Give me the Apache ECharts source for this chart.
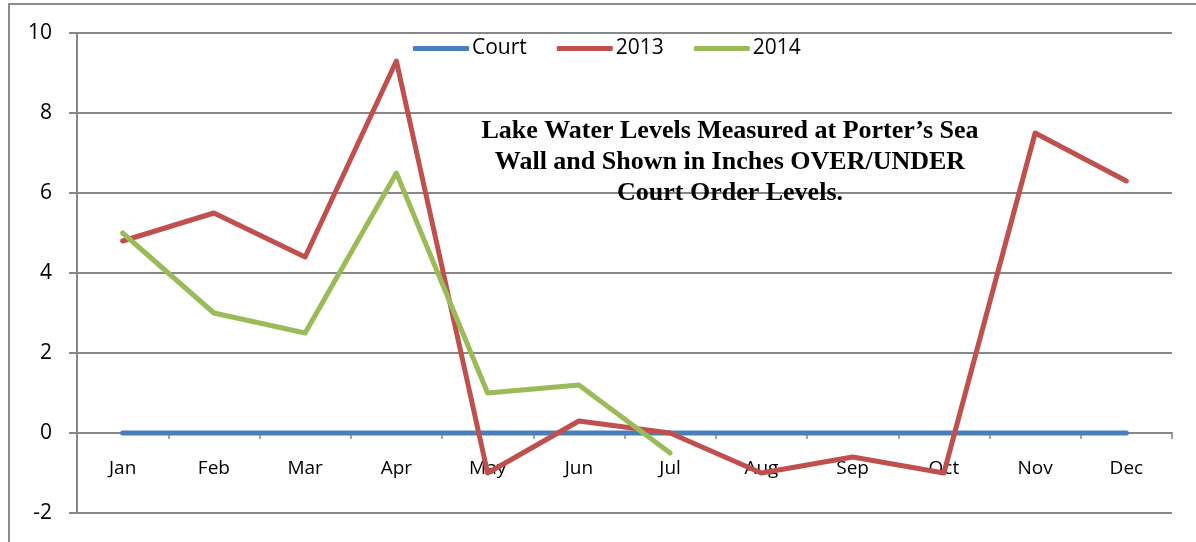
<!DOCTYPE html>
<html>
<head>
<meta charset="utf-8">
<script src="https://cdn.jsdelivr.net/npm/echarts@6/dist/echarts.min.js"></script>
<style>
  html, body { margin: 0; padding: 0; background: #fff; }
  #chart { width: 1196px; height: 542px; }
</style>
</head>
<body>
<div id="chart"></div>
<script>
// months along the x axis
var months = ['Jan', 'Feb', 'Mar', 'Apr', 'May', 'Jun', 'Jul', 'Aug', 'Sep', 'Oct', 'Nov', 'Dec'];

// inches over/under the court order level
var court = [0, 0, 0, 0, 0, 0, 0, 0, 0, 0, 0, 0];
var y2013 = [4.8, 5.5, 4.4, 9.3, -1.0, 0.3, 0.0, -1.0, -0.6, -1.0, 7.5, 6.3];
var y2014 = [5.0, 3.0, 2.5, 6.5, 1.0, 1.2, -0.5];

var chartTitle = 'Lake Water Levels Measured at Porter\u2019s Sea\nWall and Shown in Inches OVER/UNDER\nCourt Order Levels.';

var gridColor = '#878787';
var labelFont = '"Liberation Sans Narrow", "Open Sans", sans-serif';

var myChart = echarts.init(document.getElementById('chart'));

var line = function (name, data, color) {
    return {
        name: name,
        type: 'line',
        data: data,
        symbol: 'none',
        smooth: false,
        animation: false,
        lineStyle: { color: color, width: 5, cap: 'round', join: 'round' },
        itemStyle: { color: color }
    };
};

var option = {
    backgroundColor: '#fff',
    animation: false,
    graphic: [{
        type: 'rect',
        shape: { x: 9, y: 4, width: 1300, height: 700 },
        style: { fill: 'none', stroke: '#8c8c8c', lineWidth: 2 },
        silent: true,
        z: -10
    }],
    title: {
        text: chartTitle,
        left: 725,
        top: 111,
        textAlign: 'center',
        textStyle: {
            fontFamily: '"Liberation Serif", "Times New Roman", serif',
            fontWeight: 'bold',
            fontSize: 26,
            lineHeight: 31,
            color: '#000'
        }
    },
    legend: {
        left: 408,
        top: 33,
        itemWidth: 56,
        itemHeight: 5,
        itemGap: 30,
        icon: 'roundRect',
        textStyle: { fontFamily: '"Open Sans", sans-serif', fontSize: 21, color: '#000', padding: [0, 0, 0, -2] },
        data: ['Court', '2013', '2014']
    },
    grid: { left: 77, top: 33, right: 24, bottom: 29, outerBoundsMode: 'none', containLabel: false },
    xAxis: {
        type: 'category',
        data: months,
        boundaryGap: true,
        offset: -80,
        axisLine: { onZero: false, lineStyle: { color: gridColor, width: 2 } },
        axisTick: { show: true, length: 6, inside: false, lineStyle: { color: gridColor, width: 1.5 } },
        axisLabel: { margin: 26, fontFamily: labelFont, fontSize: 19, color: '#000' },
        splitLine: { show: false }
    },
    yAxis: {
        type: 'value',
        min: -2,
        max: 10,
        interval: 2,
        axisLine: { show: true, lineStyle: { color: gridColor, width: 2 } },
        axisTick: { show: true, length: 8, lineStyle: { color: gridColor, width: 2 } },
        axisLabel: { margin: 25, fontFamily: '"Open Sans", sans-serif', fontSize: 21, color: '#000' },
        splitLine: { show: true, lineStyle: { color: gridColor, width: 2 } }
    },
    series: [
        line('Court', court, '#4a7ebb'),
        line('2013', y2013, '#c0504d'),
        line('2014', y2014, '#9bbb59')
    ]
};

myChart.setOption(option);
</script>
</body>
</html>
